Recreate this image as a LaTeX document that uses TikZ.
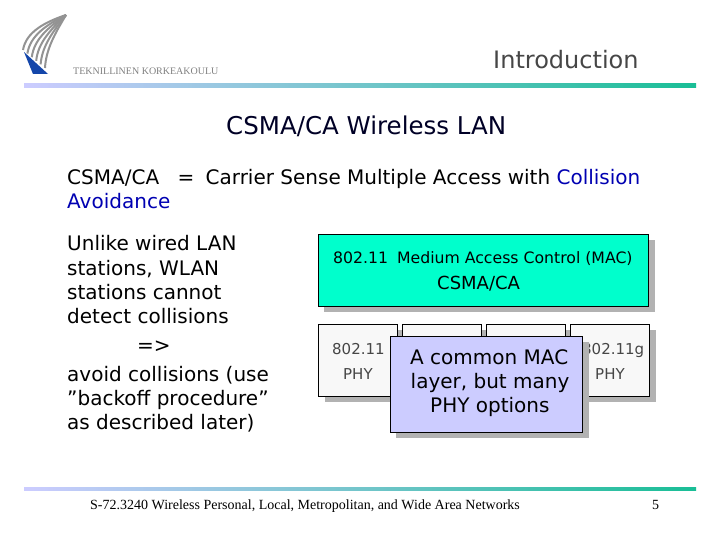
\documentclass[tikz,border=0pt]{standalone}
\usepackage{fontspec}
\setmainfont{DejaVu Sans}
\newfontfamily\serifx{Liberation Serif}
\definecolor{lav}{RGB}{204,204,255}
\definecolor{teal1}{RGB}{0,255,204}
\definecolor{bar2}{RGB}{25,190,150}
\definecolor{shad}{RGB}{178,178,178}
\definecolor{phyfill}{RGB}{248,248,248}
\definecolor{logoblue}{RGB}{20,70,170}
\definecolor{txtgray}{RGB}{70,70,70}
\tikzset{
  x=1pt,y=-1pt,
  lab/.style={inner sep=0pt,align=left,anchor=base west,text=black},
  boxa/.style={draw=black,line width=.8pt,inner sep=0pt,anchor=north west},
  arc1/.style={draw=gray!85,line width=2pt},
}
\newcommand{\fs}[1]{\fontsize{#1}{#1}\selectfont}
\begin{document}
\begin{tikzpicture}
\useasboundingbox (0,0) rectangle (720,540);
\fill[white] (0,0) rectangle (720,540);
% logo
\fill[logoblue] (24,52) -- (48,74) -- (33,74) -- cycle;
\foreach \t in {0,0.2,0.4,0.6,0.8,1}{
  \draw[arc1] ({23+\t*22},{50+\t*18}) .. controls ({26+\t*20},{32+\t*18}) and ({45+\t*9},{22+\t*13}) .. (66,15);
}
\node[lab,text=gray,font=\serifx\fs{10}] (logotext) at (73,74.5) {TEKNILLINEN KORKEAKOULU};
% top rule and footer rule
\shade[left color=lav,right color=bar2] (24,84) rectangle (696,88);
\shade[left color=lav,right color=bar2] (24,487) rectangle (696,490);
% headings
\node[lab,text=txtgray,font=\fs{24}] (intro) at (493,69) {Introduction};
\node[lab,text=black!85!blue,font=\fs{24.5}] (title) at (226,135) {CSMA/CA Wireless LAN};
% body
\node[lab,font=\fs{20}] (l1) at (67,185) {CSMA/CA\hspace{12pt} = \hspace{5pt}Carrier Sense Multiple Access with \textcolor{blue!70!black}{Collision}};
\node[lab,font=\fs{20},text=blue!70!black] (l2) at (67,209) {Avoidance};
\node[lab,font=\fs{20}] (b1) at (67,251) {Unlike wired LAN};
\node[lab,font=\fs{20}] (b2) at (67,275) {stations, WLAN};
\node[lab,font=\fs{20}] (b3) at (67,299) {stations cannot};
\node[lab,font=\fs{20}] (b4) at (67,323) {detect collisions};
\node[lab,font=\fs{20}] (b5) at (137,352) {=>};
\node[lab,font=\fs{20}] (b6) at (67,381) {avoid collisions (use};
\node[lab,font=\fs{20}] (b7) at (67,405) {”backoff procedure”};
\node[lab,font=\fs{20}] (b8) at (67,429) {as described later)};
% MAC box
\fill[shad] (324,240) rectangle (655,312);
\filldraw[fill=teal1,boxa] (318.5,234.5) rectangle (648.5,306.5);
\node[lab,font=\fs{15.7}] (m1) at (333,263) {802.11\hspace{4pt} Medium Access Control (MAC)};
\node[lab,font=\fs{18}] (m2) at (437,289) {CSMA/CA};
% PHY boxes
\foreach \x in {318.5,402.5,486.5,570.5}{
  \fill[shad] (\x+6,330) rectangle (\x+85,402);
  \filldraw[fill=phyfill,boxa] (\x,324.5) rectangle (\x+78.5,396.5);
}
\node[lab,font=\fs{15},text=txtgray] (p1) at (332,354) {802.11};
\node[lab,font=\fs{15},text=txtgray] (p1b) at (343,379) {PHY};
\node[lab,font=\fs{15},text=txtgray] (p4) at (582,354) {802.11g};
\node[lab,font=\fs{15},text=txtgray] (p4b) at (595,379) {PHY};
% popup
\fill[shad] (396,342) rectangle (589,438);
\filldraw[fill=lav,boxa] (390.5,336.5) rectangle (582.5,432.5);
\node[lab,font=\fs{20}] (c1) at (410,364.5) {A common MAC};
\node[lab,font=\fs{20}] (c2) at (410.5,388.5) {layer, but many};
\node[lab,font=\fs{20}] (c3) at (430,412.5) {PHY options};
% footer
\node[lab,font=\serifx\fs{14}] (foot) at (90,509) {S-72.3240 Wireless Personal, Local, Metropolitan, and Wide Area Networks};
\node[lab,font=\serifx\fs{14}] (num) at (652,509) {5};
\end{tikzpicture}
\end{document}
